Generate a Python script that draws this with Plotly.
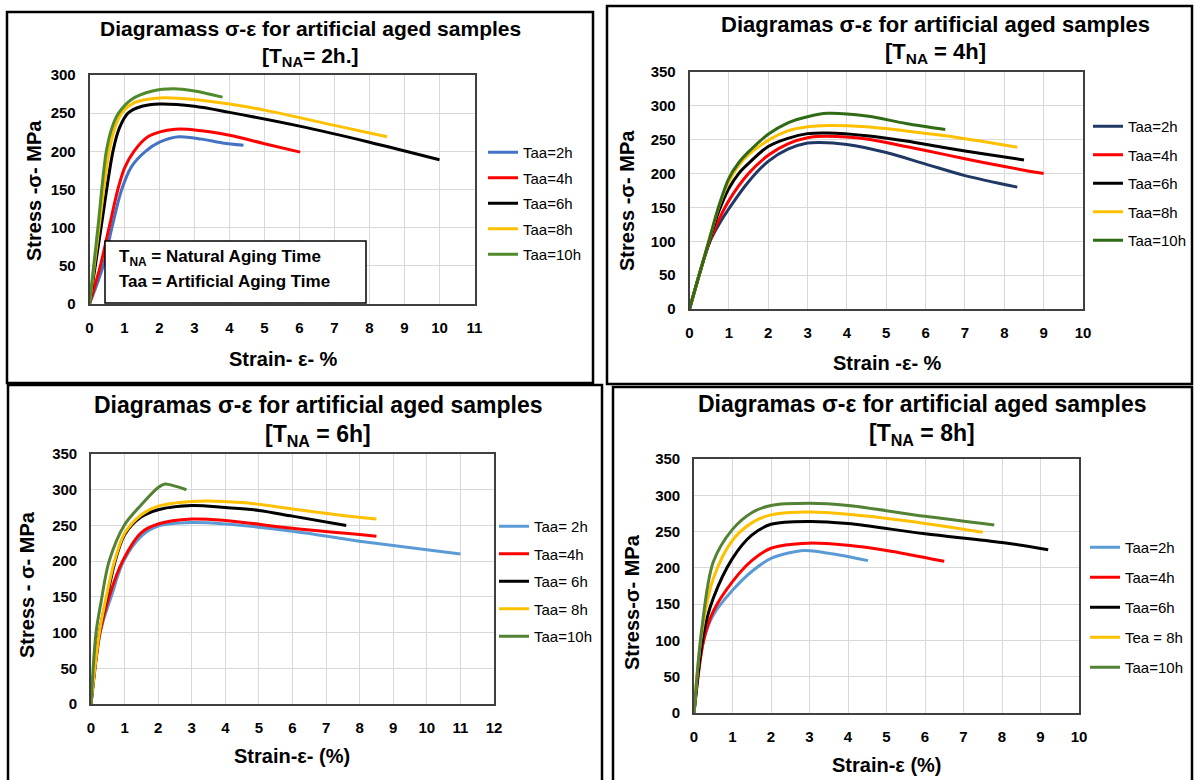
import plotly.graph_objects as go

W, H = 1195, 780

# ---------------- data: strain (%) and stress (MPa) ----------------
# T_NA = 2h
na2_taa2_strain = [0, 0.39, 0.64, 0.92, 1.2, 1.6, 2.0, 2.55, 3.2, 3.8, 4.4]
na2_taa2_stress = [0, 50, 100, 150, 180, 200, 212, 219, 216, 211, 208]
na2_taa4_strain = [0, 0.31, 0.56, 0.81, 1.0, 1.27, 1.7, 2.45, 3.2, 4.0, 5.0, 6.02]
na2_taa4_stress = [0, 50, 100, 150, 178, 200, 220, 229, 227, 221, 210, 199]
na2_taa6_strain = [0, 0.33, 0.67, 0.85, 1.1, 1.5, 2.0, 3.0, 4.0, 6.0, 8.0, 10.0]
na2_taa6_stress = [0, 100, 200, 230, 250, 259, 262, 259, 251, 233, 212, 189]
na2_taa8_strain = [0, 0.27, 0.56, 0.72, 0.92, 1.3, 2.0, 3.0, 4.0, 5.0, 7.0, 8.5]
na2_taa8_stress = [0, 100, 200, 230, 250, 264, 270, 268, 262, 254, 234, 219]
na2_taa10_strain = [0, 0.24, 0.48, 0.65, 0.83, 1.2, 1.8, 2.4, 3.0, 3.8]
na2_taa10_stress = [0, 100, 200, 232, 250, 268, 279, 282, 279, 271]

# T_NA = 4h
na4_taa2_strain = [0, 0.5, 0.75, 1.0, 1.5, 2.0, 2.5, 3.0, 3.3, 4.0, 5.0, 6.0, 7.0, 8.33]
na4_taa2_stress = [0, 97, 125, 148, 188, 218, 236, 245, 246, 243, 231, 214, 197, 180]
na4_taa4_strain = [0, 0.5, 0.75, 1.0, 1.5, 2.0, 2.5, 3.0, 3.5, 4.5, 5.5, 6.5, 7.5, 8.5, 9.0]
na4_taa4_stress = [0, 98, 132, 160, 200, 227, 244, 253, 255, 251, 240, 228, 216, 205, 200]
na4_taa6_strain = [0, 0.5, 0.75, 1.0, 1.25, 1.5, 2.0, 2.5, 3.0, 3.5, 4.5, 5.5, 6.5, 7.5, 8.5]
na4_taa6_stress = [0, 100, 145, 178, 200, 215, 240, 252, 259, 260, 256, 248, 238, 229, 220]
na4_taa8_strain = [0, 0.5, 0.75, 1.0, 1.25, 1.5, 2.0, 2.5, 3.0, 3.5, 4.5, 5.5, 6.5, 7.5, 8.33]
na4_taa8_stress = [0, 102, 152, 188, 212, 228, 249, 263, 269, 271, 269, 263, 256, 247, 239]
na4_taa10_strain = [0, 0.5, 0.75, 1.0, 1.25, 1.5, 2.0, 2.5, 3.0, 3.5, 4.5, 5.5, 6.5]
na4_taa10_stress = [0, 102, 153, 193, 216, 232, 258, 275, 284, 289, 285, 274, 265]

# T_NA = 6h
na6_taa2_strain = [0, 0.27, 0.6, 0.97, 1.5, 2.0, 3.0, 4.0, 6.0, 8.0, 10.0, 11.0]
na6_taa2_stress = [0, 100, 150, 200, 235, 249, 254, 252, 242, 228, 216, 210]
na6_taa4_strain = [0, 0.27, 0.54, 0.94, 1.5, 2.0, 3.0, 4.0, 6.0, 8.5]
na6_taa4_stress = [0, 100, 150, 200, 240, 252, 259, 257, 246, 235]
na6_taa6_strain = [0, 0.25, 0.5, 0.72, 1.0, 1.5, 2.0, 3.0, 4.0, 5.0, 6.0, 7.6]
na6_taa6_stress = [0, 100, 155, 200, 237, 262, 272, 278, 275, 271, 263, 250]
na6_taa8_strain = [0, 0.25, 0.5, 0.7, 1.0, 1.5, 2.0, 3.2, 4.5, 6.0, 7.5, 8.5]
na6_taa8_stress = [0, 100, 160, 200, 239, 265, 277, 284, 282, 273, 264, 259]
na6_taa10_strain = [0, 0.15, 0.3, 0.54, 1.0, 1.5, 2.0, 2.2, 2.5, 2.84]
na6_taa10_stress = [0, 100, 143, 200, 251, 279, 303, 308, 305, 300]

# T_NA = 8h
na8_taa2_strain = [0, 0.25, 0.5, 1.0, 1.5, 2.0, 2.86, 3.5, 4.52]
na8_taa2_stress = [0, 100, 135, 169, 195, 213, 224, 220, 210]
na8_taa4_strain = [0, 0.25, 0.5, 1.0, 1.5, 2.0, 2.96, 4.0, 5.0, 6.5]
na8_taa4_stress = [0, 100, 140, 181, 210, 227, 234, 231, 224, 209]
na8_taa6_strain = [0, 0.25, 0.5, 1.0, 1.5, 2.0, 3.0, 4.0, 6.0, 8.0, 9.2]
na8_taa6_stress = [0, 110, 158, 213, 245, 260, 264, 261, 247, 235, 225]
na8_taa8_strain = [0, 0.2, 0.5, 1.0, 1.5, 2.0, 3.0, 4.0, 5.5, 7.5]
na8_taa8_stress = [0, 110, 185, 238, 262, 273, 277, 274, 265, 249]
na8_taa10_strain = [0, 0.2, 0.5, 1.0, 1.5, 2.0, 3.0, 4.0, 6.0, 7.8]
na8_taa10_stress = [0, 115, 208, 253, 276, 286, 289, 286, 271, 259]

# legend labels
labels_na2 = ["Taa=2h", "Taa=4h", "Taa=6h", "Taa=8h", "Taa=10h"]
labels_na4 = ["Taa=2h", "Taa=4h", "Taa=6h", "Taa=8h", "Taa=10h"]
labels_na6 = ["Taa= 2h", "Taa=4h", "Taa= 6h", "Taa= 8h", "Taa=10h"]
labels_na8 = ["Taa=2h", "Taa=4h", "Taa=6h", "Tea = 8h", "Taa=10h"]

# axis ticks
x_ticks_na2 = list(range(0, 12))
x_ticks_na4 = list(range(0, 11))
x_ticks_na6 = list(range(0, 13))
x_ticks_na8 = list(range(0, 11))
y_ticks_300 = list(range(0, 301, 50))
y_ticks_350 = list(range(0, 351, 50))

# ---------------- styling / layout helpers ----------------
FONT = "Liberation Sans, Arial, sans-serif"


def px(x):
    return x / W


def py(y):
    return 1 - y / H


panels = [
    dict(
        n="", series=list(zip(labels_na2,
                              ["#4472c4", "#ff0000", "#000000", "#ffc000", "#4f8a2b"],
                              [na2_taa2_strain, na2_taa4_strain, na2_taa6_strain, na2_taa8_strain, na2_taa10_strain],
                              [na2_taa2_stress, na2_taa4_stress, na2_taa6_stress, na2_taa8_stress, na2_taa10_stress])),
        plot=(89.5, 75, 474.5, 304), xt=x_ticks_na2, yt=y_ticks_300,
        frame=(7, 12, 593, 383),
        title=("Diagramass σ-ε for artificial aged samples", "[T<sub>NA</sub>= 2h.]"),
        title_xy=(310, 29, 57), title_size=21,
        ytitle="Stress -σ- MPa", ytitle_xy=(34, 191),
        xtitle="Strain- ε- %", xtitle_xy=(283, 359),
        legend_xy=(483, 136), legend_gap=3,
    ),
    dict(
        n="2", series=list(zip(labels_na4,
                               ["#1f3864", "#ff0000", "#000000", "#ffc000", "#2f6a16"],
                               [na4_taa2_strain, na4_taa4_strain, na4_taa6_strain, na4_taa8_strain, na4_taa10_strain],
                               [na4_taa2_stress, na4_taa4_stress, na4_taa6_stress, na4_taa8_stress, na4_taa10_stress])),
        plot=(689.5, 72, 1083, 309), xt=x_ticks_na4, yt=y_ticks_350,
        frame=(607, 6, 1192, 384),
        title=("Diagramas σ-ε for artificial aged samples", "[T<sub>NA</sub> = 4h]"),
        title_xy=(935, 24, 53), title_size=22,
        ytitle="Stress -σ- MPa", ytitle_xy=(627, 201),
        xtitle="Strain -ε- %", xtitle_xy=(887, 363),
        legend_xy=(1088, 110), legend_gap=6,
    ),
    dict(
        n="3", series=list(zip(labels_na6,
                               ["#5b9bd5", "#ff0000", "#000000", "#ffc000", "#548235"],
                               [na6_taa2_strain, na6_taa4_strain, na6_taa6_strain, na6_taa8_strain, na6_taa10_strain],
                               [na6_taa2_stress, na6_taa4_stress, na6_taa6_stress, na6_taa8_stress, na6_taa10_stress])),
        plot=(91, 454, 494, 704), xt=x_ticks_na6, yt=y_ticks_350,
        frame=(8, 385, 602, 790),
        title=("Diagramas σ-ε for artificial aged samples", "[T<sub>NA</sub> = 6h]"),
        title_xy=(318, 405, 435), title_size=23,
        ytitle="Stress - σ- MPa", ytitle_xy=(27, 585),
        xtitle="Strain-ε- (%)", xtitle_xy=(292, 756),
        legend_xy=(494, 510), legend_gap=5,
    ),
    dict(
        n="4", series=list(zip(labels_na8,
                               ["#5b9bd5", "#ff0000", "#000000", "#ffc000", "#548235"],
                               [na8_taa2_strain, na8_taa4_strain, na8_taa6_strain, na8_taa8_strain, na8_taa10_strain],
                               [na8_taa2_stress, na8_taa4_stress, na8_taa6_stress, na8_taa8_stress, na8_taa10_stress])),
        plot=(694, 459, 1079, 713), xt=x_ticks_na8, yt=y_ticks_350,
        frame=(613, 387, 1192, 790),
        title=("Diagramas σ-ε for artificial aged samples", "[T<sub>NA</sub> = 8h]"),
        title_xy=(922, 404, 434), title_size=23,
        ytitle="Stress-σ- MPa", ytitle_xy=(632, 602),
        xtitle="Strain-ε (%)", xtitle_xy=(887, 765),
        legend_xy=(1085, 531), legend_gap=7.5,
    ),
]

fig = go.Figure()
shapes, annotations = [], []
layout = dict(
    width=W, height=H, margin=dict(l=0, r=0, t=0, b=0, pad=0, autoexpand=False),
    paper_bgcolor="white", plot_bgcolor="white",
    font=dict(family=FONT, color="black"),
)

for p in panels:
    n = p["n"]
    xa, ya = "x" + n, "y" + n
    leg = "legend" + n
    for i, (label, color, xs, ys) in enumerate(p["series"]):
        fig.add_trace(go.Scatter(
            x=xs, y=ys, mode="lines", name=label,
            line=dict(color=color, width=3, shape="spline", smoothing=0.9),
            xaxis=xa, yaxis=ya, legend=leg, legendgroup=f"{leg}_{i}",
            hoverinfo="skip",
        ))
    x0, y0, x1, y1 = p["plot"]
    axis_common = dict(
        showgrid=True, gridcolor="#d9d9d9", gridwidth=1.2, zeroline=False,
        showline=True, mirror=True, linecolor="#404040", linewidth=1.6,
        ticks="", tickfont=dict(family=FONT, size=15, weight="bold", color="black"),
        ticklabelstandoff=9, fixedrange=True, automargin=False,
    )
    layout["xaxis" + n] = dict(axis_common, domain=[px(x0), px(x1)], anchor=ya,
                               range=[0, p["xt"][-1]], tickvals=p["xt"])
    layout["yaxis" + n] = dict(axis_common, domain=[py(y1), py(y0)], anchor=xa,
                               range=[0, p["yt"][-1]], tickvals=p["yt"])
    lx, ly = p["legend_xy"]
    layout[leg] = dict(
        x=px(lx), y=py(ly), xref="paper", yref="paper", xanchor="left", yanchor="top",
        bgcolor="rgba(0,0,0,0)", borderwidth=0, tracegroupgap=p["legend_gap"],
        font=dict(family=FONT, size=15, color="black"), itemwidth=30,
    )
    fx0, fy0, fx1, fy1 = p["frame"]
    shapes.append(dict(type="rect", xref="paper", yref="paper",
                       x0=px(fx0), x1=px(fx1), y0=py(fy1), y1=py(fy0),
                       line=dict(color="black", width=2.5), layer="above"))
    t1, t2 = p["title"]
    tx, ty1, ty2 = p["title_xy"]
    for txt, ty in ((t1, ty1), (t2, ty2)):
        annotations.append(dict(text=txt, xref="paper", yref="paper", x=px(tx), y=py(ty),
                                xanchor="center", yanchor="middle", showarrow=False,
                                font=dict(family=FONT, size=p["title_size"], weight="bold")))
    ytx, yty = p["ytitle_xy"]
    annotations.append(dict(text=p["ytitle"], xref="paper", yref="paper", x=px(ytx), y=py(yty),
                            xanchor="center", yanchor="middle", showarrow=False, textangle=-90,
                            font=dict(family=FONT, size=20, weight="bold")))
    xtx, xty = p["xtitle_xy"]
    annotations.append(dict(text=p["xtitle"], xref="paper", yref="paper", x=px(xtx), y=py(xty),
                            xanchor="center", yanchor="middle", showarrow=False,
                            font=dict(family=FONT, size=20, weight="bold")))

# note box with the symbol definitions (first panel)
shapes.append(dict(type="rect", xref="paper", yref="paper",
                   x0=px(105), x1=px(366), y0=py(303), y1=py(241),
                   fillcolor="white", line=dict(color="black", width=1.5), layer="above"))
for txt, ty in (("T<sub>NA</sub> = Natural Aging Time", 258), ("Taa = Artificial Aging Time", 281)):
    annotations.append(dict(text=txt, xref="paper", yref="paper", x=px(117), y=py(ty),
                            xanchor="left", yanchor="middle", showarrow=False,
                            font=dict(family=FONT, size=17, weight="bold")))

layout["shapes"] = shapes
layout["annotations"] = annotations
fig.update_layout(**layout)
fig.write_html("out.html")
